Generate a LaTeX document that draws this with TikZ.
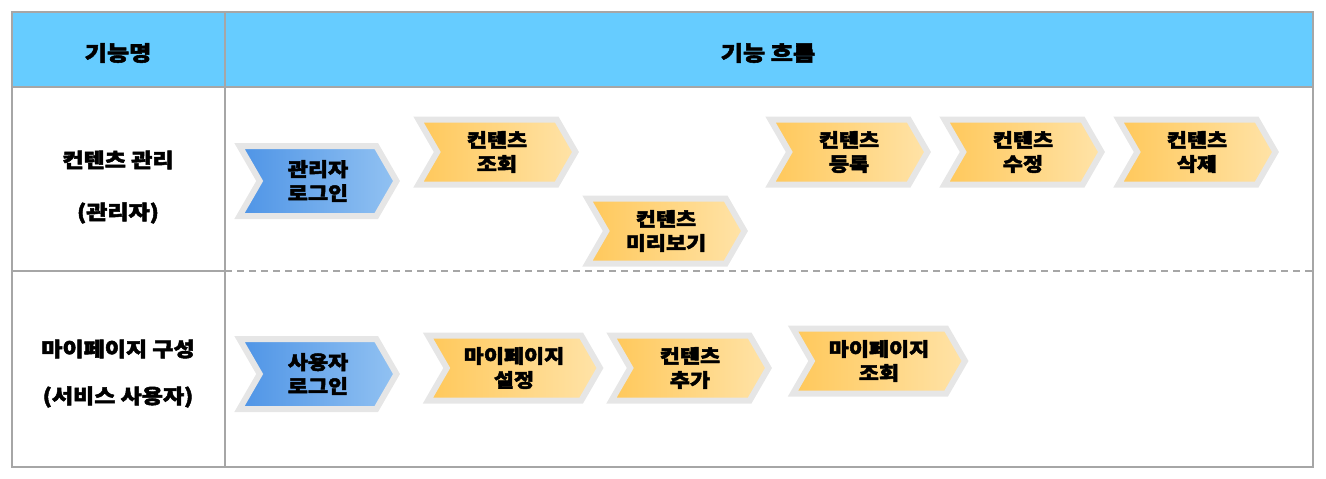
\documentclass[tikz,border=0pt]{standalone}
\usepackage{fontspec}
\setmainfont{Noto Sans CJK KR}[BoldFeatures={FakeBold=2.5,FakeStretch=1.15}]
\usetikzlibrary{positioning,shapes.symbols}
\definecolor{headblue}{HTML}{66CCFF}
\definecolor{rulegray}{HTML}{A6A6A6}
\definecolor{rimgray}{HTML}{E6E6E6}
\definecolor{loginL}{HTML}{4E94E6}
\definecolor{loginR}{HTML}{92C2F2}
\definecolor{taskL}{HTML}{FFC85A}
\definecolor{taskR}{HTML}{FFE3A8}

\begin{document}
\begin{tikzpicture}[x=1pt,y=-1pt,
  chev/.style={shape=signal,signal to=east,signal from=west,
    signal pointer angle=120,draw=rimgray,line width=6pt,
    minimum width=157pt,minimum height=70pt,inner sep=0pt,
    align=center,font=\bfseries\fontsize{19}{24}\selectfont},
  login/.style={chev,left color=loginL,right color=loginR},
  task/.style={chev,left color=taskL,right color=taskR,minimum height=65pt},
  wide/.style={task,minimum width=172pt},
  label/.style={font=\bfseries\fontsize{20}{24}\selectfont}]
  \useasboundingbox (0,0) rectangle (1326,479);
  % table
  \fill[headblue] (12,12) rectangle (1313,87);
  \draw[rulegray,line width=2pt] (12,12) rectangle (1313,467);
  \draw[rulegray,line width=2pt] (12,87) -- (1313,87);
  \draw[rulegray,line width=2pt] (225,12) -- (225,467);
  \draw[rulegray,line width=2pt] (12,271) -- (225,271);
  \draw[rulegray,line width=1.5pt,dash pattern=on 7pt off 5pt] (225,271) -- (1313,271);
  % headings
  \node[label,font=\bfseries\fontsize{21}{24}\selectfont] (hname) at (118,53) {기능명};
  \node[label,font=\bfseries\fontsize{21}{24}\selectfont] (hflow) at (768,53) {기능 흐름};
  \node[label] (mgmt) at (118,160) {컨텐츠 관리};
  \node[label] (mgmtrole) at (118,213) {(관리자)};
  \node[label] (mypage) at (118,349) {마이페이지 구성};
  \node[label] (mypagerole) at (118,397) {(서비스 사용자)};
  % admin flow
  \node[login] (adminlogin) at (318,181) {관리자\\로그인};
  \node[task] (view) at (497,152) {컨텐츠\\조회};
  \node[task] (preview) at (666,231) {컨텐츠\\미리보기};
  \node[task] (register) at (849,152) {컨텐츠\\등록};
  \node[task] (edit) at (1023,152) {컨텐츠\\수정};
  \node[task] (delete) at (1197,152) {컨텐츠\\삭제};
  % user flow
  \node[login] (userlogin) at (318,374) {사용자\\로그인};
  \node[wide] (mysetup) at (514,368) {마이페이지\\설정};
  \node[task] (add) at (690,368) {컨텐츠\\추가};
  \node[wide] (myview) at (879,361) {마이페이지\\조회};
\end{tikzpicture}
\end{document}
